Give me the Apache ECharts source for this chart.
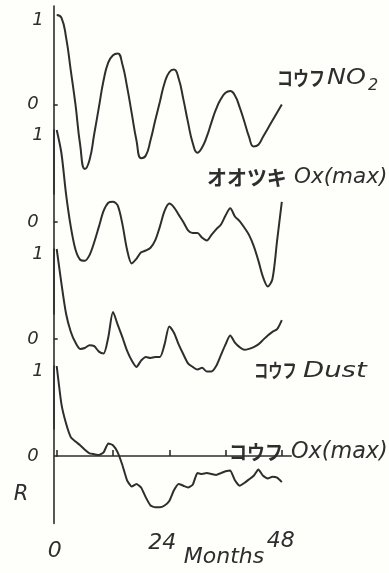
<!DOCTYPE html>
<html>
<head>
<meta charset="utf-8">
<script src="https://cdn.jsdelivr.net/npm/echarts@6/dist/echarts.min.js"></script>
<style>
html,body{margin:0;padding:0;background:#fefefb;}
#chart{width:389px;height:573px;}
</style>
</head>
<body>
<div id="chart"></div>
<script>
// Lag in months
var months = [0,1,2,3,4,5,6,7,8,9,10,11,12,13,14,15,16,17,18,19,20,21,22,23,24,25,26,27,28,29,30,31,32,33,34,35,36,37,38,39,40,41,42,43,44,45,46,47,48];
// Autocorrelation R
var kofuNO2 = [1.0,0.97,0.75,0.38,0.0,-0.45,-0.72,-0.62,-0.33,-0.03,0.27,0.47,0.55,0.57,0.45,0.2,-0.1,-0.4,-0.6,-0.57,-0.4,-0.18,0.03,0.24,0.36,0.39,0.29,0.06,-0.2,-0.43,-0.54,-0.48,-0.36,-0.2,-0.05,0.06,0.13,0.15,0.1,-0.03,-0.19,-0.36,-0.47,-0.45,-0.36,-0.27,-0.18,-0.09,0.0];
var otsukiOx = [1.0,0.75,0.3,-0.05,-0.3,-0.41,-0.42,-0.36,-0.22,-0.05,0.12,0.21,0.22,0.18,-0.02,-0.3,-0.45,-0.4,-0.33,-0.31,-0.28,-0.2,-0.05,0.12,0.2,0.16,0.08,0.0,-0.09,-0.12,-0.12,-0.17,-0.2,-0.14,-0.08,-0.03,0.07,0.15,0.06,0.01,-0.06,-0.14,-0.26,-0.42,-0.6,-0.7,-0.62,-0.2,0.22];
var kofuDust = [1.0,0.62,0.28,0.08,-0.04,-0.11,-0.1,-0.07,-0.08,-0.14,-0.16,0.02,0.3,0.16,0.02,-0.13,-0.24,-0.31,-0.24,-0.2,-0.21,-0.2,-0.2,-0.06,0.14,0.07,-0.06,-0.17,-0.27,-0.31,-0.34,-0.32,-0.36,-0.36,-0.3,-0.18,-0.06,0.04,-0.04,-0.09,-0.12,-0.11,-0.09,-0.06,-0.01,0.04,0.08,0.11,0.21];
var kofuOx = [1.0,0.58,0.36,0.21,0.16,0.12,0.07,0.03,0.02,0.01,0.04,0.14,0.12,0.04,-0.1,-0.27,-0.34,-0.31,-0.35,-0.46,-0.55,-0.57,-0.57,-0.55,-0.5,-0.38,-0.31,-0.33,-0.35,-0.32,-0.19,-0.2,-0.19,-0.2,-0.21,-0.19,-0.17,-0.16,-0.27,-0.33,-0.3,-0.26,-0.22,-0.15,-0.22,-0.25,-0.23,-0.24,-0.29];
var xTicks = [0,12,24,36,48];
var xLabels = [0,24,48];
var seriesNames = ['コウフ NO2','オオツキ Ox(max)','コウフ Dust','コウフ Ox(max)'];

var INK = '#2e2e2e';
var FONT = "'DejaVu Sans','Noto Sans CJK JP',sans-serif";
var JFONT = "'Noto Sans CJK JP','DejaVu Sans',sans-serif";

function pairs(vals){ return months.map(function(m,i){ return [m, vals[i]]; }); }

var grids = [
  {left:56.7, right:97.8, top:6,   height:188},
  {left:56.7, right:97.8, top:130, height:184},
  {left:56.7, right:97.8, top:249, height:180},
  {left:56.7, right:97.8, top:366, height:157.5}
];
var yRanges = [[-1,1.1],[-1,1],[-1,1],[-0.75,1]];

var xAxes = [], yAxes = [], series = [];
var all = [kofuNO2, otsukiOx, kofuDust, kofuOx];
var smooths = [0.5, 0.3, 0.25, 0.15];
for (var i=0;i<4;i++){
  var last = (i===3);
  xAxes.push({
    gridIndex:i, type:'value', min:0, max:50,
    show:last,
    axisLine:{show:true, lineStyle:{color:INK, width:1.6}},
    axisTick:{show:true, inside:true, length:6, customValues:xTicks, lineStyle:{color:INK, width:1.6}},
    axisLabel:{show:true, customValues:xLabels, margin:7, color:INK,
      fontFamily:FONT, fontStyle:'italic', fontSize:22,
      formatter:function(v){ return v===0 ? '{a|0}' : (v===24 ? '{b|24}' : '{c|48}'); },
      rich:{
        a:{fontFamily:FONT, fontStyle:'italic', fontSize:22, color:INK, padding:[10,4,0,0]},
        b:{fontFamily:FONT, fontStyle:'italic', fontSize:22, color:INK, padding:[2,14,0,0]},
        c:{fontFamily:FONT, fontStyle:'italic', fontSize:22, color:INK, padding:[0,2,0,0]}
      }},
    splitLine:{show:false}
  });
  yAxes.push({
    gridIndex:i, type:'value', min:yRanges[i][0], max:yRanges[i][1], offset:3,
    axisLine:{show:true, onZero:false, lineStyle:{color:INK, width:1.6}},
    axisTick:{show:true, inside:true, length:4, customValues:[0], lineStyle:{color:INK, width:1.6}},
    axisLabel:{show:true, customValues:[0,1], margin:10, color:INK,
      formatter:function(v){ return v===1 ? '{one|1}' : '{zero|0}'; },
      rich:{
        one:{fontFamily:FONT, fontStyle:'italic', fontSize:18, color:INK, padding:[10,0,0,0]},
        zero:{fontFamily:FONT, fontStyle:'italic', fontSize:18, color:INK, padding:[0,5,0,0]}
      }},
    splitLine:{show:false}
  });
  series.push({
    name:seriesNames[i], type:'line', xAxisIndex:i, yAxisIndex:i,
    data:pairs(all[i]), showSymbol:false, smooth:smooths[i],
    lineStyle:{color:INK, width:2}, itemStyle:{color:INK}, silent:true
  });
}

function kata(x, y, t, size, sx){
  return {type:'text', x:x, y:y, silent:true, scaleX:sx||1,
    style:{text:t, fill:INK, fontFamily:JFONT, fontWeight:'bold', fontSize:size, align:'left', verticalAlign:'middle'}};
}
function latin(x, y, t, size, sx){
  return {type:'text', x:x, y:y, silent:true, scaleX:sx||1,
    style:{text:t, fill:INK, fontFamily:FONT, fontStyle:'italic', fontSize:size, align:'left', verticalAlign:'middle'}};
}

var chart = echarts.init(document.getElementById('chart'), null, {renderer:'canvas'});
chart.setOption({
  backgroundColor:'#fefefb',
  animation:false,
  grid:grids, xAxis:xAxes, yAxis:yAxes, series:series,
  graphic:[
    kata(277, 78, 'コウフ', 20, 0.8),
    latin(327, 78, 'NO', 22, 1.15),
    latin(368, 86, '2', 16),
    kata(207, 177, 'オオツキ', 21, 0.95),
    latin(294, 177, 'Ox(max)', 21.5),
    kata(254, 371, 'コウフ', 19, 0.75),
    latin(303, 371, 'Dust', 22, 1.25),
    kata(229, 452, 'コウフ', 20, 0.9),
    latin(291, 452, 'Ox(max)', 22.3),
    {type:'text', x:224, y:557, silent:true,
      style:{text:'Months', fill:INK, fontFamily:FONT, fontStyle:'italic', fontSize:22, align:'center', verticalAlign:'middle'}},
    {type:'text', x:21, y:495, silent:true,
      style:{text:'R', fill:INK, fontFamily:FONT, fontStyle:'italic', fontSize:21, align:'center', verticalAlign:'middle'}}
  ]
});
</script>
</body>
</html>
